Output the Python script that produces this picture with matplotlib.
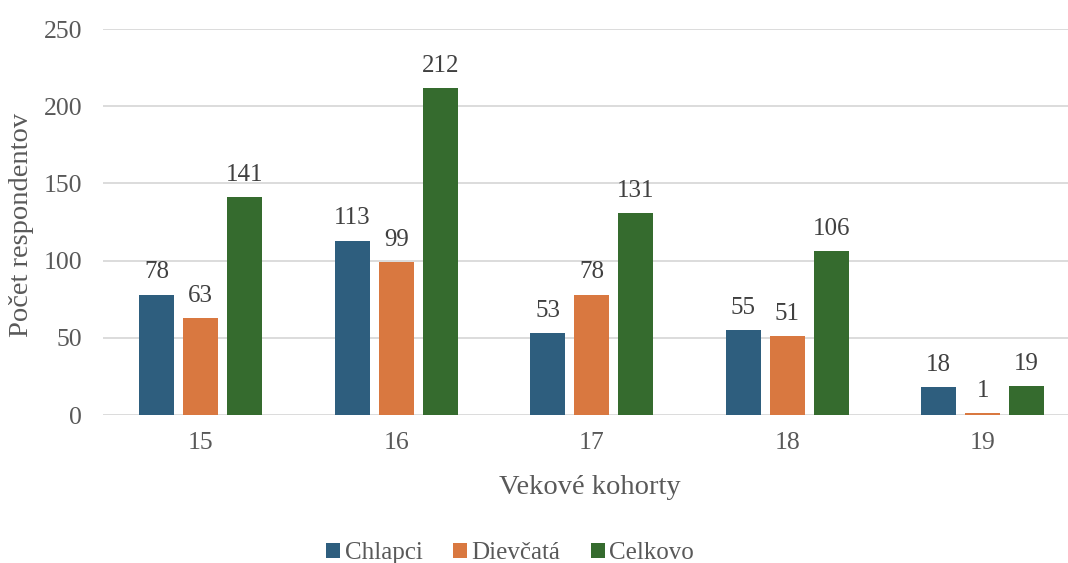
import numpy as np
import matplotlib.pyplot as plt

cohorts = ["15", "16", "17", "18", "19"]
chlapci = [78, 113, 53, 55, 18]
dievcata = [63, 99, 78, 51, 1]
celkovo = [141, 212, 131, 106, 19]

series = [("Chlapci", chlapci, "#2E5E7E"),
          ("Dievčatá", dievcata, "#D97840"),
          ("Celkovo", celkovo, "#356B2E")]

plt.rcParams["font.family"] = ["Liberation Serif", "DejaVu Serif"]

fig = plt.figure(figsize=(10.68, 5.63), dpi=100)
W, H = 1068, 563
ax = fig.add_axes([103 / W, (H - 415) / H, (W - 103) / W, (415 - 29) / H])

x = np.arange(len(cohorts))
width = 0.179
offsets = [-0.225, 0.0, 0.225]

for (name, vals, color), off in zip(series, offsets):
    bars = ax.bar(x + off, vals, width, color=color, label=name, zorder=3)
    ax.bar_label(bars, padding=8, fontsize=18, color="#404040")

ax.set_ylim(0, 250)
ax.set_xlim(-0.5, -0.5 + 965 / 195.5)
ax.set_yticks(range(0, 251, 50))
ax.set_xticks(x)
ax.set_xticklabels(cohorts)
ax.yaxis.grid(True, color="#D9D9D9", linewidth=1.3, zorder=0)
ax.set_axisbelow(True)
for s in ax.spines.values():
    s.set_visible(False)
ax.tick_params(axis="both", length=0, labelsize=18.5, labelcolor="#595959")
ax.tick_params(axis="y", pad=15)
ax.tick_params(axis="x", pad=12)

ax.set_xlabel("Vekové kohorty", fontsize=20.5, color="#595959")
ax.set_ylabel("Počet respondentov", fontsize=20.5, color="#595959")
ax.xaxis.label.set_va("center")
ax.yaxis.label.set_va("center")
ax.xaxis.set_label_coords((590 - 103) / (W - 103), -(488 - 415) / 386)
ax.yaxis.set_label_coords(-(103 - 22) / (W - 103), (415 - 225) / 386)

fig.legend(loc="center", bbox_to_anchor=(510 / W, 1 - 553 / H), ncol=3,
           frameon=False, fontsize=18, handlelength=0.56, handleheight=0.56,
           handletextpad=0.2, columnspacing=1.2, labelcolor="#595959")

fig.savefig("out.png", dpi=100)
